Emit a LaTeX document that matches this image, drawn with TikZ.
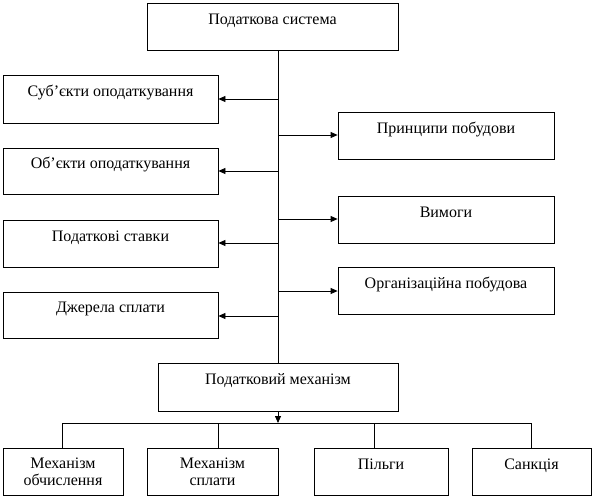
\documentclass[tikz,border=0pt]{standalone}
\usepackage{fontspec}
\setmainfont{Liberation Serif}
\newfontfamily\ukrserif{Liberation Serif}
\usetikzlibrary{arrows.meta}
\tikzset{
  box/.style={draw, line width=0.8pt, inner sep=0pt, align=center,
    font=\ukrserif\fontsize{16}{16.6}\selectfont},
  onebox/.style={box, text height=11pt, text depth=16pt},
  twobox/.style={box},
  conn/.style={line width=0.8pt},
  arr/.style={conn, -{Triangle[length=7pt,width=6pt]}}
}
\newcommand{\bx}[7]{%
  \node[#1, minimum width={#5-#3}, minimum height={#6-#4}] (#2) at ({(#3+#5)/2},{(#4+#6)/2}) {#7};}
\begin{document}
\begin{tikzpicture}[x=1pt,y=-1pt]
\useasboundingbox (0,0) rectangle (594,498);
\bx{onebox}{sys}{147}{3}{398}{50}{Податкова система}
\bx{onebox}{subj}{3}{75}{218}{123}{Суб’єкти оподаткування}
\bx{onebox}{obj}{3}{148}{218}{194}{Об’єкти оподаткування}
\bx{onebox}{rate}{3}{220}{218}{267}{Податкові ставки}
\bx{onebox}{src}{3}{292}{218}{338}{Джерела сплати}
\bx{onebox}{princ}{338}{112}{554}{159}{Принципи побудови}
\bx{onebox}{req}{338}{196}{554}{243}{Вимоги}
\bx{onebox}{org}{338}{267}{554}{314}{Організаційна побудова}
\bx{onebox}{mech}{158}{363}{398}{411}{Податковий механізм}
\bx{twobox}{calc}{3}{448}{123}{495}{Механізм\\обчислення}
\bx{twobox}{pay}{147}{448}{278}{495}{Механізм\\сплати}
\bx{onebox}{rel}{314}{448}{448}{495}{Пільги}
\bx{onebox}{sanc}{472}{448}{591}{495}{Санкція}
% trunk
\coordinate (ttop) at (sys.south -| mech.north);
\draw[conn] (ttop) -- (mech.north);
\coordinate (l1) at (278,99);
\coordinate (l2) at (278,171);
\coordinate (l3) at (278,243);
\coordinate (l4) at (278,316);
\coordinate (r1) at (278,135);
\coordinate (r2) at (278,219);
\coordinate (r3) at (278,291);
\draw[arr] (l1) -- (l1 -| subj.east);
\draw[arr] (l2) -- (l2 -| obj.east);
\draw[arr] (l3) -- (l3 -| rate.east);
\draw[arr] (l4) -- (l4 -| src.east);
\draw[arr] (r1) -- (r1 -| princ.west);
\draw[arr] (r2) -- (r2 -| req.west);
\draw[arr] (r3) -- (r3 -| org.west);
% bus
\coordinate (busc) at (278,423);
\coordinate (b1) at (62,423);
\coordinate (b2) at (218,423);
\coordinate (b3) at (374,423);
\coordinate (b4) at (531,423);
\draw[arr] (mech.south) -- (busc);
\draw[conn] (b1 |- calc.north) -- (b1) -- (b4) -- (b4 |- sanc.north);
\draw[conn] (b2) -- (b2 |- pay.north);
\draw[conn] (b3) -- (b3 |- rel.north);
\end{tikzpicture}
\end{document}
